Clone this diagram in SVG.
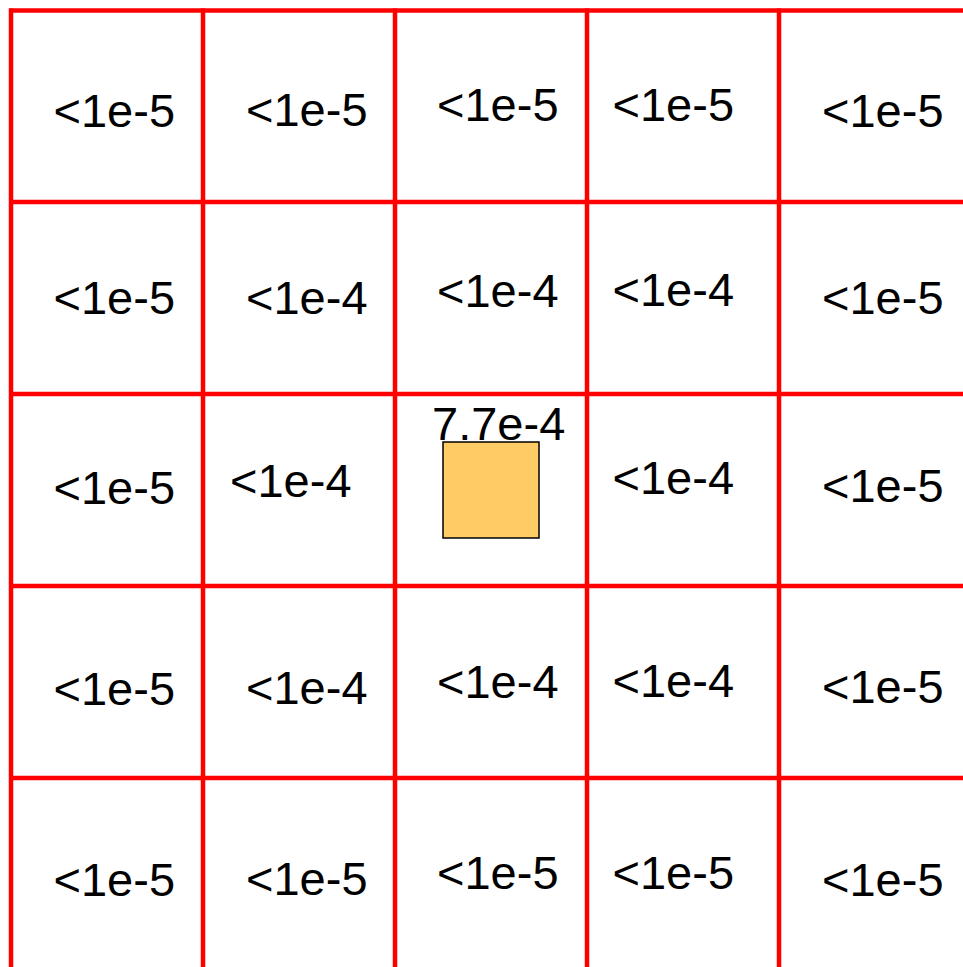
<svg xmlns="http://www.w3.org/2000/svg" width="963" height="967" viewBox="0 0 963 967">
<style>
.g{stroke:#ff0000;stroke-width:4.5;fill:none}
.t{font-family:"Liberation Sans",Arial,sans-serif;font-size:47px;fill:#000}
.box{fill:#fecb65;stroke:#000;stroke-width:1.5}
</style>
<rect width="963" height="967" fill="#fff"/>
<g id="connectors">
<path class="g" d="M9 10.5H963M9 202H963M9 394H963M9 586H963M9 778H963"/>
<path class="g" d="M11 8.5V967M203 8.5V967M395 8.5V967M587 8.5V967M779 8.5V967"/>
</g>
<g id="r1">
<text class="t" x="53.5" y="127">&lt;1e-5</text>
<text class="t" x="246" y="126">&lt;1e-5</text>
<text class="t" x="437" y="121">&lt;1e-5</text>
<text class="t" x="612.5" y="121">&lt;1e-5</text>
<text class="t" x="822" y="127">&lt;1e-5</text>
</g>
<g id="r2">
<text class="t" x="53.5" y="314">&lt;1e-5</text>
<text class="t" x="246" y="314">&lt;1e-4</text>
<text class="t" x="437" y="307">&lt;1e-4</text>
<text class="t" x="612.5" y="306">&lt;1e-4</text>
<text class="t" x="822" y="314">&lt;1e-5</text>
</g>
<g id="r3">
<text class="t" x="53.5" y="504">&lt;1e-5</text>
<text class="t" x="230" y="497">&lt;1e-4</text>
<g id="center">
<rect class="box" x="443" y="442" width="96" height="96"/>
<text class="t" x="432" y="440">7.7e-4</text>
</g>
<text class="t" x="612.5" y="494">&lt;1e-4</text>
<text class="t" x="822" y="502">&lt;1e-5</text>
</g>
<g id="r4">
<text class="t" x="53.5" y="705">&lt;1e-5</text>
<text class="t" x="246" y="704">&lt;1e-4</text>
<text class="t" x="437" y="698">&lt;1e-4</text>
<text class="t" x="612.5" y="697">&lt;1e-4</text>
<text class="t" x="822" y="703">&lt;1e-5</text>
</g>
<g id="r5">
<text class="t" x="53.5" y="896">&lt;1e-5</text>
<text class="t" x="246" y="895">&lt;1e-5</text>
<text class="t" x="437" y="889">&lt;1e-5</text>
<text class="t" x="612.5" y="889">&lt;1e-5</text>
<text class="t" x="822" y="896">&lt;1e-5</text>
</g>
</svg>
